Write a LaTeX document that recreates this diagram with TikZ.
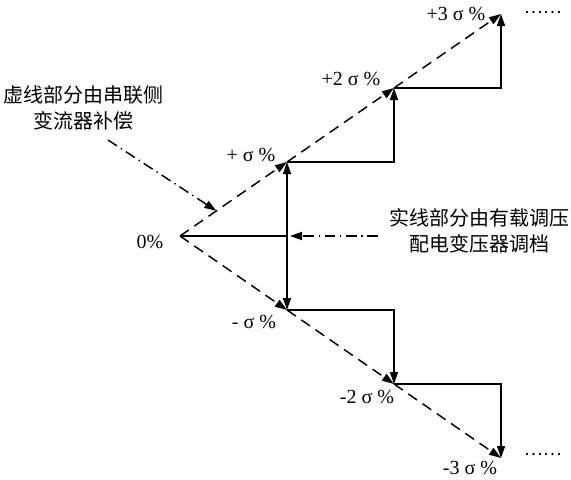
\documentclass[tikz,border=0pt]{standalone}
\usepackage{fontspec}
\setmainfont{Liberation Serif}
\newfontfamily\cjk{Noto Sans CJK SC}
\usetikzlibrary{arrows.meta,calc}

\tikzset{
  tip/.style={-{Triangle[length=9pt,width=6pt]}},
  stair/.style={line width=1.1pt, tip},
  both/.style={line width=1.1pt, {Triangle[length=9pt,width=6pt]}-{Triangle[length=9pt,width=6pt]}},
  dashln/.style={line width=1.1pt, dash pattern=on 8pt off 5pt, tip},
  note/.style={line width=1.1pt, dash pattern=on 8pt off 3.5pt on 1pt off 3.5pt, tip},
  lvl/.style={font=\fontsize{15}{17}\selectfont, inner sep=0pt},
  txt/.style={font=\cjk\fontsize{15}{20}\selectfont, align=center, inner sep=0pt},
}

\begin{document}
\begin{tikzpicture}[x=0.75pt, y=-0.75pt]
  \useasboundingbox (0,0) rectangle (571,479);
  % one tap step
  \def\dx{107}
  \def\dy{74}
  \coordinate (o) at (180,236);
  % tap points above (p) and below (m) the rated ratio
  \foreach \k in {1,2,3}{
    \coordinate (p\k) at ({180+\k*\dx},{236-\k*\dy});
    \coordinate (m\k) at ({180+\k*\dx},{236+\k*\dy});
  }
  \coordinate (c) at (p1 |- o);
  % dashed part: series converter
  \foreach \a/\b in {o/p1,p1/p2,p2/p3,o/m1,m1/m2,m2/m3}
    \draw[dashln] (\a) -- (\b);
  % solid part: on-load tap changer
  \draw[line width=1.1pt] (o) -- (c);
  \draw[both] (m1) -- (p1);
  \draw[stair] (p1) -- (p2 |- p1) -- (p2);
  \draw[stair] (p2) -- (p3 |- p2) -- (p3);
  \draw[stair] (m1) -- (m2 |- m1) -- (m2);
  \draw[stair] (m2) -- (m3 |- m2) -- (m3);
  % level labels
  \node[lvl] (l0) at (150,242) {0\%};
  \node[lvl] (lp1) at (251,155) {+ σ \%};
  \node[lvl] (lp2) at (351,79) {+2 σ \%};
  \node[lvl] (lp3) at (456,14) {+3 σ \%};
  \node[lvl] (lm1) at (254,322) {- σ \%};
  \node[lvl] (lm2) at (367,397) {-2 σ \%};
  \node[lvl] (lm3) at (470,468) {-3 σ \%};
  \node[txt, font=\cjk\fontsize{13}{15}\selectfont] (up) at (543,13) {……};
  \node[txt, font=\cjk\fontsize{13}{15}\selectfont] (dn) at (543,455) {……};
  % notes
  \node[txt] (ltxt) at (83,108) {虚线部分由串联侧\\变流器补偿};
  \node[txt] (rtxt) at (479,231) {实线部分由有载调压\\配电变压器调档};
  \coordinate (a1) at (108,140);
  \coordinate (a2) at (378,236);
  \draw[note] (a1) -- ($(o)!0.34!(p1)$);
  \draw[note, shorten >=2.25pt] (a2) -- (c);
\end{tikzpicture}
\end{document}
